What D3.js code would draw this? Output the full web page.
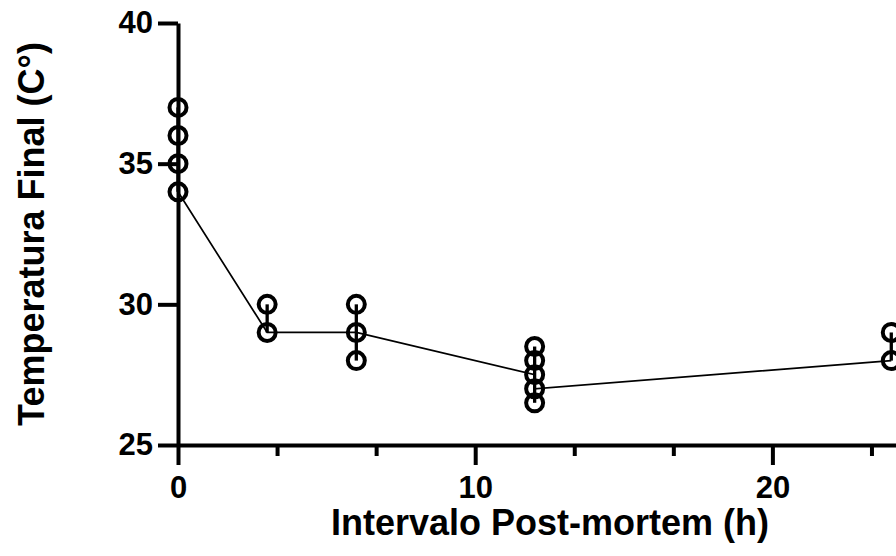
<!DOCTYPE html>
<html><head><meta charset="utf-8">
<script src="https://cdn.jsdelivr.net/npm/d3@7"></script>
<style>body{margin:0;background:#fff}svg{display:block}</style>
</head><body>
<script>
// Data
const xGroups = [0, 3, 6, 12, 24];
const pointsX = [0,0,0,0, 3,3, 6,6,6, 12,12,12,12,12, 24,24];
const pointsY = [34,35,36,37, 29,30, 28,29,30, 26.5,27,27.5,28,28.5, 28,29];
const barLow  = [34, 29, 28, 26.5, 28];
const barHigh = [37, 30, 30, 28.5, 29];
const lineX = [0, 3, 6, 12, 12, 24];
const lineY = [34, 29, 29, 27.5, 27, 28];
const xMajorTicks = [0, 10, 20];
const xMinorTicks = [10/3, 20/3, 40/3, 50/3, 70/3];
const yTicks = [25, 30, 35, 40];

const W = 896, H = 556;
const svg = d3.select("body").append("svg").attr("width", W).attr("height", H);
const x = d3.scaleLinear().domain([0, 25]).range([178, 178 + 25 * 29.72]);
const y = d3.scaleLinear().domain([25, 40]).range([445, 23]);
const font = "'Liberation Sans', Arial, sans-serif";

// X axis
svg.append("g").attr("transform", `translate(0,${y(25)})`)
  .call(d3.axisBottom(x).tickValues(xMajorTicks).tickSize(20).tickSizeOuter(0).tickPadding(11).tickFormat(d3.format("d")));
svg.append("g").attr("transform", `translate(0,${y(25)})`)
  .call(d3.axisBottom(x).tickValues(xMinorTicks).tickSize(11).tickSizeOuter(0).tickFormat(""))
  .select(".domain").remove();
// Y axis
svg.append("g").attr("transform", `translate(${x(0)},0)`)
  .call(d3.axisLeft(y).tickValues(yTicks).tickSize(20).tickSizeOuter(0).tickPadding(5).tickFormat(d3.format("d")));

svg.selectAll(".domain, .tick line").attr("stroke", "#000").attr("stroke-width", 4);
svg.selectAll(".tick text").attr("font-family", font).attr("font-weight", "bold")
  .attr("font-size", 31).attr("fill", "#000");

// Connecting line
svg.append("path")
  .datum(lineX.map((d, i) => [d, lineY[i]]))
  .attr("fill", "none").attr("stroke", "#000").attr("stroke-width", 1.7)
  .attr("d", d3.line().x(d => x(d[0])).y(d => y(d[1])));

// Range bars
svg.append("g").selectAll("line").data(xGroups).join("line")
  .attr("x1", d => x(d)).attr("x2", d => x(d))
  .attr("y1", (d, i) => y(barLow[i])).attr("y2", (d, i) => y(barHigh[i]))
  .attr("stroke", "#000").attr("stroke-width", 3.3);

// Points
svg.append("g").selectAll("circle").data(pointsX).join("circle")
  .attr("cx", d => x(d)).attr("cy", (d, i) => y(pointsY[i]))
  .attr("r", 8.5).attr("fill", "none").attr("stroke", "#000").attr("stroke-width", 4);

// Axis titles
svg.append("text").attr("x", 550).attr("y", 535).attr("text-anchor", "middle")
  .attr("font-family", font).attr("font-weight", "bold").attr("font-size", 36)
  .text("Intervalo Post-mortem (h)");
svg.append("text").attr("transform", "translate(44,234) rotate(-90)").attr("text-anchor", "middle")
  .attr("font-family", font).attr("font-weight", "bold").attr("font-size", 36)
  .text("Temperatura Final (C°)");
</script>
</body></html>
